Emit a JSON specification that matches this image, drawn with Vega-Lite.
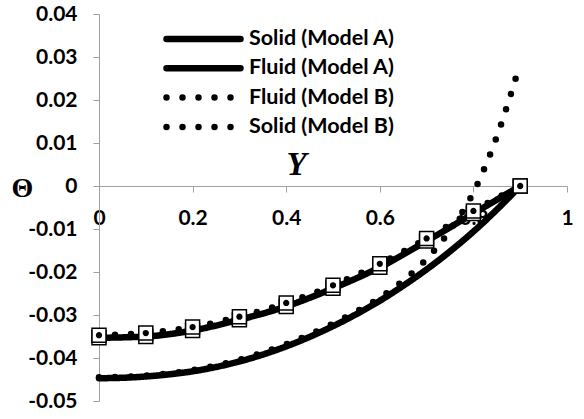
{
  "$schema": "https://vega.github.io/schema/vega-lite/v6.json",
  "width": 468,
  "height": 387,
  "autosize": "none",
  "padding": {"left": 99, "top": 14, "right": 17, "bottom": 18},
  "background": "white",
  "config": {"view": {"stroke": null}, "font": "Lato"},
  "datasets": {
    "curves": [
      {"series": "Solid (Model A)", "x": 0, "y": -0.0353},
      {"series": "Solid (Model A)", "x": 0.1, "y": -0.035},
      {"series": "Solid (Model A)", "x": 0.2, "y": -0.0336},
      {"series": "Solid (Model A)", "x": 0.3, "y": -0.0311},
      {"series": "Solid (Model A)", "x": 0.4, "y": -0.028},
      {"series": "Solid (Model A)", "x": 0.5, "y": -0.0238},
      {"series": "Solid (Model A)", "x": 0.6, "y": -0.0189},
      {"series": "Solid (Model A)", "x": 0.7, "y": -0.0128},
      {"series": "Solid (Model A)", "x": 0.8, "y": -0.0064},
      {"series": "Solid (Model A)", "x": 0.9, "y": 0},
      {"series": "Fluid (Model A)", "x": 0, "y": -0.0447},
      {"series": "Fluid (Model A)", "x": 0.05, "y": -0.0446},
      {"series": "Fluid (Model A)", "x": 0.1, "y": -0.0443},
      {"series": "Fluid (Model A)", "x": 0.15, "y": -0.0438},
      {"series": "Fluid (Model A)", "x": 0.2, "y": -0.0431},
      {"series": "Fluid (Model A)", "x": 0.25, "y": -0.0421},
      {"series": "Fluid (Model A)", "x": 0.3, "y": -0.0408},
      {"series": "Fluid (Model A)", "x": 0.35, "y": -0.0392},
      {"series": "Fluid (Model A)", "x": 0.4, "y": -0.0373},
      {"series": "Fluid (Model A)", "x": 0.45, "y": -0.0351},
      {"series": "Fluid (Model A)", "x": 0.5, "y": -0.0326},
      {"series": "Fluid (Model A)", "x": 0.55, "y": -0.0298},
      {"series": "Fluid (Model A)", "x": 0.6, "y": -0.0267},
      {"series": "Fluid (Model A)", "x": 0.65, "y": -0.0232},
      {"series": "Fluid (Model A)", "x": 0.7, "y": -0.0194},
      {"series": "Fluid (Model A)", "x": 0.75, "y": -0.0152},
      {"series": "Fluid (Model A)", "x": 0.8, "y": -0.0106},
      {"series": "Fluid (Model A)", "x": 0.85, "y": -0.0055},
      {"series": "Fluid (Model A)", "x": 0.9, "y": 0},
      {"series": "Fluid (Model B)", "x": 0, "y": -0.0445},
      {"series": "Fluid (Model B)", "x": 0.1, "y": -0.0441},
      {"series": "Fluid (Model B)", "x": 0.2, "y": -0.0428},
      {"series": "Fluid (Model B)", "x": 0.3, "y": -0.0404},
      {"series": "Fluid (Model B)", "x": 0.4, "y": -0.0368},
      {"series": "Fluid (Model B)", "x": 0.5, "y": -0.032},
      {"series": "Fluid (Model B)", "x": 0.55, "y": -0.0292},
      {"series": "Fluid (Model B)", "x": 0.6, "y": -0.026},
      {"series": "Fluid (Model B)", "x": 0.65, "y": -0.022},
      {"series": "Fluid (Model B)", "x": 0.7, "y": -0.017},
      {"series": "Fluid (Model B)", "x": 0.75, "y": -0.0103},
      {"series": "Fluid (Model B)", "x": 0.8, "y": -0.0015},
      {"series": "Fluid (Model B)", "x": 0.85, "y": 0.0115},
      {"series": "Fluid (Model B)", "x": 0.9, "y": 0.0285},
      {"series": "Solid (Model B)", "x": 0, "y": -0.0347},
      {"series": "Solid (Model B)", "x": 0.1, "y": -0.0342},
      {"series": "Solid (Model B)", "x": 0.2, "y": -0.0328},
      {"series": "Solid (Model B)", "x": 0.3, "y": -0.0304},
      {"series": "Solid (Model B)", "x": 0.4, "y": -0.0272},
      {"series": "Solid (Model B)", "x": 0.5, "y": -0.0231},
      {"series": "Solid (Model B)", "x": 0.6, "y": -0.0181},
      {"series": "Solid (Model B)", "x": 0.7, "y": -0.0122},
      {"series": "Solid (Model B)", "x": 0.8, "y": -0.0058},
      {"series": "Solid (Model B)", "x": 0.9, "y": 0}
    ]
  },
  "data": {"name": "curves"},
  "encoding": {
    "x": {
      "field": "x", "type": "quantitative",
      "scale": {"domain": [0, 1], "nice": false, "zero": false},
      "axis": {
        "values": [0, 0.2, 0.4, 0.6, 0.8, 1],
        "labelExpr": "format(datum.value, '.1~f')",
        "offset": -215, "grid": false,
        "domainColor": "#a0a0a0", "tickColor": "#a0a0a0", "tickSize": 6,
        "labelFont": "Lato", "labelFontWeight": "bold", "labelFontSize": 21, "labelColor": "black",
        "labelPadding": 15, "labelFlush": false, "labelOverlap": false,
        "title": "Y", "titleFont": "Liberation Serif", "titleFontStyle": "italic", "titleFontWeight": "bold",
        "titleFontSize": 33, "titleColor": "black", "titleX": 197, "titleY": -22, "titleBaseline": "middle", "titleAlign": "center", "titleAnchor": null
      }
    },
    "y": {
      "field": "y", "type": "quantitative",
      "scale": {"domain": [-0.05, 0.04], "nice": false, "zero": false},
      "axis": {
        "values": [-0.05, -0.04, -0.03, -0.02, -0.01, 0, 0.01, 0.02, 0.03, 0.04],
        "labelExpr": "datum.value == 0 ? '0' : (datum.value < 0 ? '-' + format(-datum.value, '.2f') : format(datum.value, '.2f'))",
        "grid": false,
        "domainColor": "#a0a0a0", "tickColor": "#a0a0a0", "tickSize": 6,
        "labelFont": "Lato", "labelFontWeight": "bold", "labelFontSize": 21, "labelColor": "black",
        "labelPadding": 16, "labelFlush": false, "labelOverlap": false,
        "title": "Θ", "titleFont": "Liberation Serif", "titleFontWeight": "bold", "titleFontSize": 28,
        "titleColor": "black", "titleAngle": 0, "titleX": -77, "titleY": 174, "titleBaseline": "middle", "titleAlign": "center", "titleAnchor": null
      }
    }
  },
  "layer": [
    {
      "mark": {"type": "line", "interpolate": "monotone", "strokeWidth": 6.5, "strokeCap": "round", "color": "black"},
      "encoding": {
        "strokeDash": {
          "field": "series", "type": "nominal",
          "scale": {
            "domain": ["Solid (Model A)", "Fluid (Model A)", "Fluid (Model B)", "Solid (Model B)"],
            "range": [[1, 0], [1, 0], [0, 16], [0, 16]]
          },
          "legend": {
            "title": null, "orient": "none", "legendX": 64, "legendY": 14,
            "padding": 0, "symbolType": "stroke", "symbolSize": 5476, "symbolStrokeWidth": 6.5,
            "symbolStrokeColor": "black", "clipHeight": 22, "rowPadding": 7.3,
            "labelFont": "Lato", "labelFontWeight": "bold", "labelFontSize": 21.5, "labelColor": "black",
            "labelOffset": 5, "labelLimit": 300,
            "encode": {"symbols": {"update": {"strokeCap": {"value": "round"}}}}
          }
        }
      }
    },
    {
      "transform": [{"filter": "indexof(datum.series, 'Solid') == 0"}],
      "mark": {"type": "point", "filled": true, "fill": "white", "stroke": "black", "strokeWidth": 1.5, "size": 196, "opacity": 1},
      "encoding": {
        "shape": {
          "field": "series", "type": "nominal",
          "scale": {
            "domain": ["Solid (Model A)", "Fluid (Model A)", "Fluid (Model B)", "Solid (Model B)", " "],
            "range": ["square", "M0,0", "M0,0", "M-1,-1H1V1H-1Z M-0.1,0A0.1,0.1 0 1,0 0.1,0A0.1,0.1 0 1,0 -0.1,0Z M-0.22,0A0.22,0.22 0 1,0 0.22,0A0.22,0.22 0 1,0 -0.22,0Z M-0.34,0A0.34,0.34 0 1,0 0.34,0A0.34,0.34 0 1,0 -0.34,0Z", "M0,0"]
          },
          "legend": null
        }
      }
    }
  ]
}
